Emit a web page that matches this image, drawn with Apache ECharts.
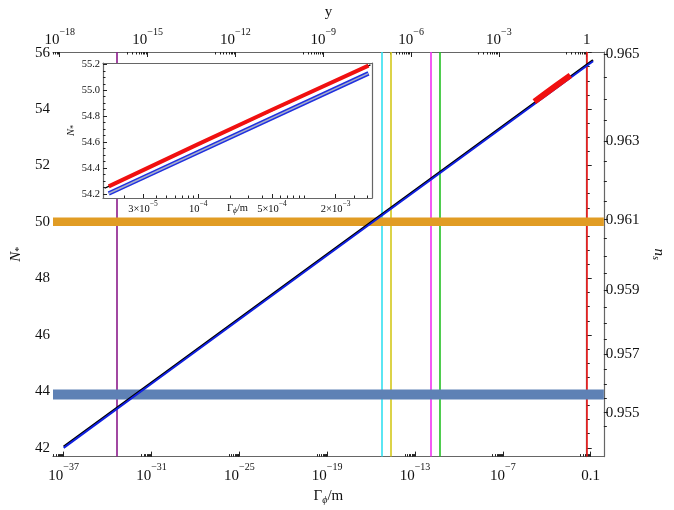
<!DOCTYPE html>
<html><head><meta charset="utf-8">
<script src="https://cdn.jsdelivr.net/npm/echarts@6/dist/echarts.min.js"></script>
<style>html,body{margin:0;padding:0;background:#fff}#c{width:674px;height:510px}</style>
</head><body><div id="c"></div>
<script>
// ---------------- data ----------------
const gammaMain   = [1e-37, 1e-30, 1e-20, 1e-10, 0.145];
const nMainBlue   = [42.0, 44.65, 48.44, 52.22, 55.69];
const nMainBlack  = [42.04, 44.69, 48.48, 52.26, 55.73];
const gammaRed    = [1.42e-5, 1e-4, 5e-4, 4.1e-3];
const nRed        = [54.26, 54.585, 54.85, 55.19];
const gammaInsetBlue  = [1.42e-5, 4.1e-3];
const nInsetBlue      = [54.205, 55.13];
const gammaInsetBlack = [1.3e-5, 4.4e-3];
const nInsetBlack     = [54.245, 55.2];
const vlineGamma  = [4.1e-34, 5.8e-16, 2.3e-15, 1.2e-12, 4.7e-12, 0.054];
const vlineColors = ['#8b1a8b', '#33e0f0', '#d4c81a', '#f032f0', '#22c022', '#f01818'];
const bandLow     = [49.86, 43.71];
const bandHigh    = [50.16, 44.07];
const bandColors  = ['#e19c24', '#5e81b5'];
const bottomTickExp = [-37, -31, -25, -19, -13, -7, -1];
const topTickExp    = [-18, -15, -12, -9, -6, -3, 0];
const leftTicks     = [42, 44, 46, 48, 50, 52, 54, 56];
const rightTicksNs  = [0.955, 0.957, 0.959, 0.961, 0.963, 0.965];
const insetYTicks   = [54.2, 54.4, 54.6, 54.8, 55.0, 55.2];
const insetXTicks   = [3e-5, 1e-4, 5e-4, 2e-3];
const insetXMant    = ['3', '', '5', '2'];
const insetXExp     = ['5', '4', '4', '3'];

// ---------------- axis ranges / transforms ----------------
const xMin = -37.73, xMax = -0.10;          // log10(Γφ/m)
const yShift = 1.27;                         // log10(Γφ/m) where y = 1
const topMin = (xMin + yShift) / 2, topMax = (xMax + yShift) / 2;
const nMin = 41.69, nMax = 56.02;
const nsToN = ns => 2 / (1 - ns) - 1.2;
const ixMin = -4.902, ixMax = -2.354, inMin = 54.17, inMax = 55.21;

const L10 = Math.log10;
const pairs = (gs, ns) => gs.map((g, i) => [L10(g), ns[i]]);

const FONT = 'Liberation Serif';
const MINUS = '\u2212';
const richMain = {
  b: {fontFamily: FONT, fontSize: 15, color: '#111', padding: [6, 0, 0, 0]},
  s: {fontFamily: FONT, fontSize: 10, color: '#111', verticalAlign: 'top', lineHeight: 11}
};
const richInset = {
  b: {fontFamily: FONT, fontSize: 10.5, color: '#111', padding: [4, 0, 0, 0]},
  s: {fontFamily: FONT, fontSize: 7.5, color: '#111', verticalAlign: 'top', lineHeight: 8}
};
const FRAME = '#666', TICK = '#222';

function minorLog(exps, lo, hi) {
  const out = [];
  exps.forEach(e => { for (let k = 2; k <= 9; k++) { const v = e - 1 + L10(k); if (v > lo && v < hi) out.push(v); } });
  return out;
}
function range(a, b, s) { const o = []; for (let v = a; v <= b + 1e-9; v += s) o.push(+v.toFixed(6)); return o; }
const notIn = (arr, eps) => v => !arr.some(t => Math.abs(t - v) < eps);

function tickOnly(base, vals, len, inside) {
  return Object.assign({}, base, {
    axisLine: {show: false}, splitLine: {show: false}, axisLabel: {show: false},
    axisTick: {show: true, inside: inside !== false, length: len, customValues: vals, lineStyle: {color: TICK, width: 1}}
  });
}

const bottomBase = {type: 'value', gridIndex: 0, min: xMin, max: xMax, position: 'bottom'};
const topBase = {type: 'value', gridIndex: 0, min: topMin, max: topMax, position: 'top'};
const leftBase = {type: 'value', gridIndex: 0, min: nMin, max: nMax, position: 'left'};
const rightBase = {type: 'value', gridIndex: 0, min: nMin, max: nMax, position: 'right'};
const insXBase = {type: 'value', gridIndex: 1, min: ixMin, max: ixMax, position: 'bottom', z: 7};
const insYBase = {type: 'value', gridIndex: 1, min: inMin, max: inMax, position: 'left', z: 7};

const rightTickPos = rightTicksNs.map(nsToN);
const rightMinorPos = range(0.9545, 0.9655, 0.0005).filter(notIn(rightTicksNs, 1e-7))
  .map(nsToN).filter(v => v > nMin && v < nMax);
const insetXMinor = [];
[-5, -4, -3].forEach(e => { for (let k = 1; k <= 9; k++) { const v = e + L10(k); if (v > ixMin && v < ixMax) insetXMinor.push(v); } });
const insetXMinorTicks = insetXMinor.filter(notIn(insetXTicks.map(L10), 1e-6));

const xAxes = [
  Object.assign({}, bottomBase, {
    axisLine: {show: true, lineStyle: {color: FRAME, width: 1.2}},
    axisTick: {show: true, inside: true, length: 5, customValues: bottomTickExp, lineStyle: {color: TICK}},
    axisLabel: {customValues: bottomTickExp, margin: 6, rich: richMain,
      formatter: v => Math.round(v) === -1 ? '{b|0.1}' : '{b|10}{s|' + MINUS + Math.abs(Math.round(v)) + '}'},
    splitLine: {show: false},
    name: '{g|Γ}{p|ϕ}{g|/m}', nameLocation: 'middle', nameGap: 30,
    nameTextStyle: {rich: {g: {fontFamily: FONT, fontSize: 15, color: '#111'},
      p: {fontFamily: FONT, fontSize: 10, fontStyle: 'italic', color: '#111', padding: [8, 0, 0, 0]}}}
  }),
  tickOnly(bottomBase, minorLog(bottomTickExp, xMin, xMax), 2.5),
  Object.assign({}, topBase, {
    axisLine: {show: true, lineStyle: {color: FRAME, width: 1.2}},
    axisTick: {show: true, inside: true, length: 5, customValues: topTickExp, lineStyle: {color: TICK}},
    axisLabel: {customValues: topTickExp, margin: 4, rich: richMain,
      formatter: v => Math.round(v) === 0 ? '{b|1}' : '{b|10}{s|' + MINUS + Math.abs(Math.round(v)) + '}'},
    splitLine: {show: false},
    name: 'y', nameLocation: 'middle', nameGap: 32,
    nameTextStyle: {fontFamily: FONT, fontSize: 15, color: '#111'}
  }),
  tickOnly(topBase, minorLog(topTickExp, topMin, topMax), 2.5),
  Object.assign({}, insXBase, {
    axisLine: {show: true, lineStyle: {color: FRAME, width: 1.2}},
    axisTick: {show: true, inside: true, length: 4, customValues: insetXTicks.map(L10), lineStyle: {color: TICK}},
    axisLabel: {customValues: insetXTicks.map(L10), margin: 2, rich: richInset,
      formatter: v => { const i = insetXTicks.findIndex(t => Math.abs(L10(t) - v) < 1e-6);
        const m = insetXMant[i]; return '{b|' + (m ? m + '×10' : '10') + '}{s|' + MINUS + insetXExp[i] + '}'; }},
    splitLine: {show: false},
    name: '{g|Γ}{p|ϕ}{g|/m}', nameLocation: 'middle', nameGap: 4, nameMoveOverlap: false,
    nameTextStyle: {rich: {g: {fontFamily: FONT, fontSize: 10.5, color: '#111'},
        p: {fontFamily: FONT, fontSize: 7.5, fontStyle: 'italic', color: '#111', padding: [5, 0, 0, 0]}}}
  }),
  Object.assign(tickOnly(insXBase, insetXMinorTicks, 2.5), {z: 7}),
  Object.assign({}, insXBase, {position: 'top', axisLine: {show: true, lineStyle: {color: FRAME, width: 1.2}},
    axisTick: {show: false}, axisLabel: {show: false}, splitLine: {show: false}})
];

const yAxes = [
  Object.assign({}, leftBase, {
    axisLine: {show: true, lineStyle: {color: FRAME, width: 1.2}},
    axisTick: {show: true, inside: true, length: 5, customValues: leftTicks, lineStyle: {color: TICK}},
    axisLabel: {customValues: leftTicks, margin: 3, fontFamily: FONT, fontSize: 15, color: '#111'},
    splitLine: {show: false},
    name: '{n|N}{s|*}', nameLocation: 'middle', nameGap: 25, nameRotate: 90,
    nameTextStyle: {rich: {n: {fontFamily: FONT, fontSize: 15, fontStyle: 'italic', color: '#111'},
      s: {fontFamily: FONT, fontSize: 10, color: '#111', padding: [6, 0, 0, 0]}}}
  }),
  tickOnly(leftBase, range(42, 56, 0.5).filter(notIn(leftTicks, 1e-6)), 3),
  Object.assign({}, rightBase, {
    axisLine: {show: true, lineStyle: {color: FRAME, width: 1.2}},
    axisTick: {show: true, inside: false, length: 4, customValues: rightTickPos, lineStyle: {color: TICK}},
    axisLabel: {customValues: rightTickPos, margin: 2, fontFamily: FONT, fontSize: 15, color: '#111',
      formatter: v => { const i = rightTickPos.findIndex(t => Math.abs(t - v) < 1e-6); return rightTicksNs[i].toFixed(3); }},
    splitLine: {show: false},
    name: '{n|n}{s|s}', nameLocation: 'middle', nameGap: 46, nameRotate: -90,
    nameTextStyle: {rich: {n: {fontFamily: FONT, fontSize: 15, fontStyle: 'italic', color: '#111'},
      s: {fontFamily: FONT, fontSize: 10, fontStyle: 'italic', color: '#111', padding: [6, 0, 0, 0]}}}
  }),
  tickOnly(rightBase, rightMinorPos, 3, false),
  Object.assign({}, insYBase, {
    axisLine: {show: true, lineStyle: {color: FRAME, width: 1.2}},
    axisTick: {show: true, inside: true, length: 4, customValues: insetYTicks, lineStyle: {color: TICK}},
    axisLabel: {customValues: insetYTicks, margin: 3, fontFamily: FONT, fontSize: 10.5, color: '#111',
      formatter: v => v.toFixed(1)},
    splitLine: {show: false},
    name: '{n|N}{s|*}', nameLocation: 'middle', nameGap: 24, nameRotate: 90,
    nameTextStyle: {rich: {n: {fontFamily: FONT, fontSize: 10.5, fontStyle: 'italic', color: '#111'},
      s: {fontFamily: FONT, fontSize: 7.5, color: '#111', padding: [4, 0, 0, 0]}}}
  }),
  tickOnly(insYBase, range(54.2, 55.2, 0.05).filter(notIn(insetYTicks, 1e-6)), 2.5),
  Object.assign({}, insYBase, {position: 'right', axisLine: {show: true, lineStyle: {color: FRAME, width: 1.2}},
    axisTick: {show: false}, axisLabel: {show: false}, splitLine: {show: false}})
];

const series = [
  {type: 'line', xAxisIndex: 0, yAxisIndex: 0, data: [], z: 2, silent: true,
    markLine: {symbol: 'none', silent: true, animation: false, label: {show: false}, z: 2,
      data: vlineGamma.map((g, i) => ({xAxis: L10(g), lineStyle: {color: vlineColors[i], width: 1.6, type: 'solid'}}))}},
  {type: 'line', xAxisIndex: 0, yAxisIndex: 0, data: [], z: 3, silent: true,
    markArea: {silent: true, animation: false, z: 3,
      data: bandLow.map((lo, i) => [{yAxis: lo, itemStyle: {color: bandColors[i], opacity: 1}}, {yAxis: bandHigh[i]}])}},
  {type: 'line', xAxisIndex: 0, yAxisIndex: 0, z: 4, symbol: 'none', animation: false,
    data: pairs(gammaMain, nMainBlack), lineStyle: {color: '#000', width: 2.2}},
  {type: 'line', xAxisIndex: 0, yAxisIndex: 0, z: 4, symbol: 'none', animation: false,
    data: pairs(gammaMain, nMainBlue), lineStyle: {color: '#1020e0', width: 2}},
  {type: 'line', xAxisIndex: 0, yAxisIndex: 0, z: 4, symbol: 'none', animation: false,
    data: pairs(gammaRed, nRed), lineStyle: {color: '#f01010', width: 6}},
  // inset
  {type: 'line', xAxisIndex: 4, yAxisIndex: 4, z: 8, symbol: 'none', animation: false,
    data: pairs(gammaInsetBlue, nInsetBlue), lineStyle: {color: '#2030e0', width: 4.5}},
  {type: 'line', xAxisIndex: 4, yAxisIndex: 4, z: 8, symbol: 'none', animation: false,
    data: pairs(gammaInsetBlue, nInsetBlue), lineStyle: {color: '#a8b0c8', width: 1.6}},
  {type: 'line', xAxisIndex: 4, yAxisIndex: 4, z: 8, symbol: 'none', animation: false,
    data: pairs(gammaInsetBlack, nInsetBlack), lineStyle: {color: '#000', width: 1.3, type: [5, 3]}},
  {type: 'line', xAxisIndex: 4, yAxisIndex: 4, z: 9, symbol: 'none', animation: false,
    data: pairs(gammaRed, nRed), lineStyle: {color: '#f01010', width: 4}}
];

const chart = echarts.init(document.getElementById('c'), null, {renderer: 'canvas'});
chart.setOption({
  backgroundColor: '#fff',
  animation: false,
  grid: [
    {left: 53, top: 37, width: 555, height: 427, containLabel: false},
    {left: 103, top: 63, width: 269, height: 135, containLabel: false}
  ],
  graphic: [{type: 'rect', z: 6, silent: true, shape: {x: 103, y: 63, width: 269, height: 135}, style: {fill: '#fff'}}],
  xAxis: xAxes,
  yAxis: yAxes,
  series: series
});
</script></body></html>
